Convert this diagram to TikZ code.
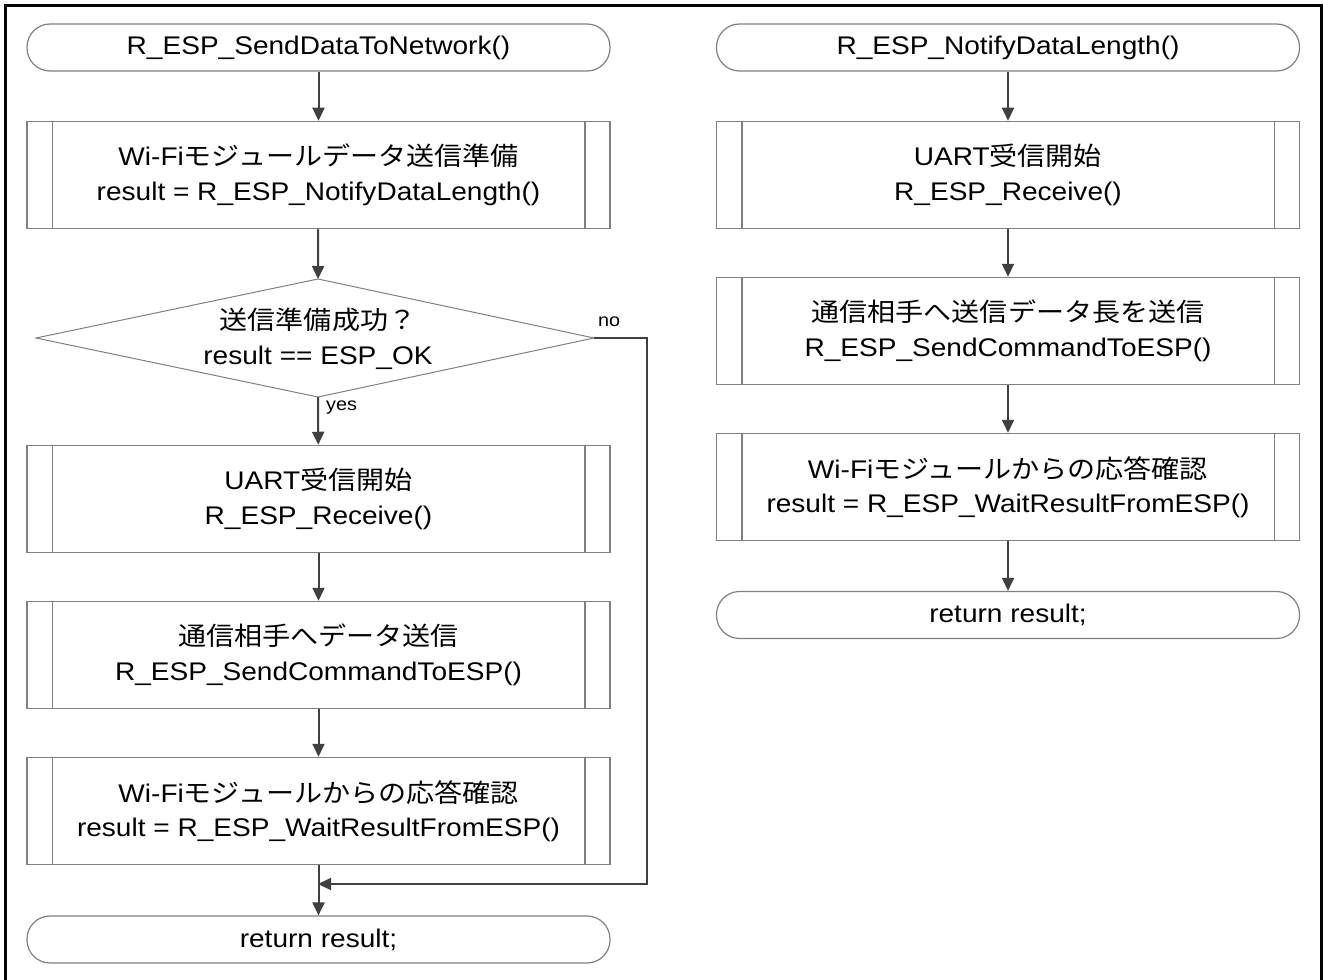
\documentclass[tikz,border=0pt]{standalone}
\usepackage{fontspec}
\setmainfont[FakeStretch=1.1]{Liberation Sans}
\newfontfamily\jp[FakeStretch=1.1]{Noto Sans CJK JP}
\usetikzlibrary{arrows.meta,calc}
\definecolor{gcol}{HTML}{808080}
\definecolor{ccol}{HTML}{404040}
\newcommand{\mfont}{\fontsize{25.5}{34.5}\selectfont}
\tikzset{
  term/.style={draw=gcol, line width=1.2pt, rounded corners=23pt, minimum width=583pt, minimum height=47pt, inner sep=0pt, font=\mfont},
  proc/.style={draw=gcol, line width=1.5pt, minimum width=583pt, minimum height=107pt, inner sep=0pt, align=center, font=\mfont},
  inner/.style={draw=gcol, line width=1.5pt},
  conn/.style={draw=ccol, line width=2pt, -{Triangle[length=13pt,width=12pt]}},
  plain/.style={draw=ccol, line width=2pt},
  lbl/.style={font=\fontsize{18}{22}\selectfont, inner sep=0pt},
}
\begin{document}
\begin{tikzpicture}[x=1pt,y=-1pt]
\useasboundingbox (0,0) rectangle (1324,979);
% outer border
\draw[black, line width=3pt] (5.5,980) -- (5.5,6) -- (1321.5,6) -- (1321.5,980);

% left column
\node[term] (t1) at (318.5,47.5) {R\_ESP\_SendDataToNetwork()};
\node[proc] (b1) at (318.5,175) {Wi-Fi{\jp モジュールデータ送信準備}\\result = R\_ESP\_NotifyDataLength()};
\coordinate (dtop) at (318,279);
\coordinate (dright) at (594,338);
\coordinate (dbot) at (318,397);
\coordinate (dleft) at (36,338);
\draw[gcol, line width=1pt] (dtop) -- (dright) -- (dbot) -- (dleft) -- cycle;
\node[font=\mfont, align=center, inner sep=0pt] (dq) at (318,339) {{\jp 送信準備成功？}\\result == ESP\_OK};
\node[proc] (b2) at (318.5,499) {UART{\jp 受信開始}\\R\_ESP\_Receive()};
\node[proc] (b3) at (318.5,655) {{\jp 通信相手へデータ送信}\\R\_ESP\_SendCommandToESP()};
\node[proc] (b4) at (318.5,811) {Wi-Fi{\jp モジュールからの応答確認}\\result = R\_ESP\_WaitResultFromESP()};
\node[term] (t2) at (318.5,939.5) {return result;};
\coordinate (join) at (318,884);

% right column
\node[term] (rt1) at (1008,47.5) {R\_ESP\_NotifyDataLength()};
\node[proc] (rb1) at (1008,175) {UART{\jp 受信開始}\\R\_ESP\_Receive()};
\node[proc] (rb2) at (1008,331) {{\jp 通信相手へ送信データ長を送信}\\R\_ESP\_SendCommandToESP()};
\node[proc] (rb3) at (1008,487) {Wi-Fi{\jp モジュールからの応答確認}\\result = R\_ESP\_WaitResultFromESP()};
\node[term] (rt2) at (1008,615) {return result;};

% inner lines of predefined-process boxes
\foreach \n in {b1,b2,b3,b4,rb1,rb2,rb3}{
  \draw[inner] ([xshift=26pt]\n.north west) -- ([xshift=26pt]\n.south west);
  \draw[inner] ([xshift=-26pt]\n.north east) -- ([xshift=-26pt]\n.south east);
}

% connectors left
\draw[conn] (t1) -- (b1);
\draw[conn] (b1) -- (dtop);
\draw[conn] (dbot) -- (b2);
\draw[conn] (b2) -- (b3);
\draw[conn] (b3) -- (b4);
\draw[conn] (b4) -- (t2);
\draw[conn] (dright) -- ++(53,0) |- (join);
\node[lbl, anchor=west] (yes) at (326,408) {yes};
\node[lbl, anchor=west] (no) at (598,322) {no};

% connectors right
\draw[conn] (rt1) -- (rb1);
\draw[conn] (rb1) -- (rb2);
\draw[conn] (rb2) -- (rb3);
\draw[conn] (rb3) -- (rt2);
\end{tikzpicture}
\end{document}
